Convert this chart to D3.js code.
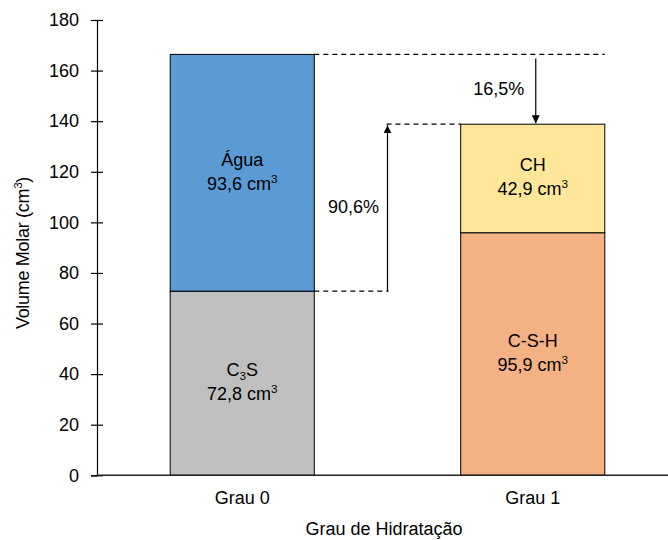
<!DOCTYPE html>
<html><head><meta charset="utf-8">
<script src="https://cdn.jsdelivr.net/npm/d3@7"></script>
<style>
body{margin:0;background:#fff}
text{font-family:"Liberation Sans",Arial,sans-serif;fill:#000}
</style>
</head><body>
<svg id="c" width="668" height="540"></svg>
<script>
// ---- data ----
const categories = ["Grau 0", "Grau 1"];
const bottomNames = ["C_3S", "C-S-H"];
const bottomValues = [72.8, 95.9];
const topNames = ["Água", "CH"];
const topValues = [93.6, 42.9];
const yTicks = [0, 20, 40, 60, 80, 100, 120, 140, 160, 180];
const pctLabels = ["90,6%", "16,5%"];
const xTitle = "Grau de Hidratação";
const yTitle = "Volume Molar (cm";

// ---- styles ----
const bottomColor = d3.scaleOrdinal().domain(categories).range(["#BFBFBF", "#F4B183"]);
const topColor = d3.scaleOrdinal().domain(categories).range(["#5B9BD5", "#FFE699"]);
const FS = 18;

const svg = d3.select("#c");
const x = d3.scaleBand().domain(categories).range([97, 678]).paddingInner(0.504).paddingOuter(0.252);
const y = d3.scaleLinear().domain([0, 180]).range([475.3, 20]);

// defs: arrow marker
const defs = svg.append("defs");
defs.append("marker").attr("id", "arr").attr("viewBox", "0 0 10 10")
  .attr("refX", 10).attr("refY", 5).attr("markerWidth", 8).attr("markerHeight", 8)
  .attr("markerUnits", "userSpaceOnUse").attr("orient", "auto")
  .append("path").attr("d", "M0,0 L10,5 L0,10 Z").attr("fill", "#000");

// bars
const rows = categories.map((c, i) => ({
  cat: c, b: bottomValues[i], t: topValues[i], bn: bottomNames[i], tn: topNames[i]
}));

const g = svg.append("g");
g.selectAll("rect.bot").data(rows).join("rect").attr("class", "bot")
  .attr("x", d => x(d.cat)).attr("width", x.bandwidth())
  .attr("y", d => y(d.b)).attr("height", d => y(0) - y(d.b))
  .attr("fill", d => bottomColor(d.cat)).attr("stroke", "#000").attr("stroke-width", 1);
g.selectAll("rect.top").data(rows).join("rect").attr("class", "top")
  .attr("x", d => x(d.cat)).attr("width", x.bandwidth())
  .attr("y", d => y(d.b + d.t)).attr("height", d => y(d.b) - y(d.b + d.t))
  .attr("fill", d => topColor(d.cat)).attr("stroke", "#000").attr("stroke-width", 1);

const fmt = v => d3.format(".1f")(v).replace(".", ",");
function nameText(sel, name) {
  const parts = name.split(/_(\d)/);
  let pending = 0;
  parts.forEach((p, k) => {
    if (!p) return;
    if (k % 2 === 1) {
      sel.append("tspan").attr("font-size", FS * 0.65).attr("dy", 4).text(p);
      pending = -4;
    } else {
      sel.append("tspan").attr("dy", pending).text(p);
      pending = 0;
    }
  });
}
function valText(sel, v) {
  sel.append("tspan").text(fmt(v) + " cm");
  sel.append("tspan").attr("font-size", FS * 0.65).attr("dy", -7).text("3");
}
function segLabel(cat, lo, hi, name, v) {
  const cx = x(cat) + x.bandwidth() / 2;
  const my = (y(lo) + y(hi)) / 2;
  const t1 = svg.append("text").attr("x", cx).attr("y", my - 7).attr("text-anchor", "middle").attr("font-size", FS);
  nameText(t1, name);
  const t2 = svg.append("text").attr("x", cx).attr("y", my + 17).attr("text-anchor", "middle").attr("font-size", FS);
  valText(t2, v);
}
rows.forEach(d => {
  segLabel(d.cat, 0, d.b, d.bn, d.b);
  segLabel(d.cat, d.b, d.b + d.t, d.tn, d.t);
});

// axes
const yAxis = svg.append("g").attr("transform", "translate(97,0)")
  .call(d3.axisLeft(y).tickValues(yTicks).tickSize(6).tickPadding(12).tickFormat(d3.format("d")));
yAxis.select(".domain").attr("stroke", "#000").attr("stroke-width", 1.2);
yAxis.selectAll(".tick line").attr("x1", 6).attr("x2", -6).attr("stroke", "#000").attr("stroke-width", 1.2);
yAxis.selectAll(".tick text").attr("font-size", FS).attr("font-family", "Liberation Sans, Arial, sans-serif").attr("fill", "#000");

svg.append("line").attr("x1", 97).attr("x2", 668).attr("y1", y(0)).attr("y2", y(0))
  .attr("stroke", "#222").attr("stroke-width", 1.4);

svg.selectAll("text.xl").data(categories).join("text").attr("class", "xl")
  .attr("x", d => x(d) + x.bandwidth() / 2).attr("y", 504).attr("text-anchor", "middle")
  .attr("font-size", FS).text(d => d);

svg.append("text").attr("x", 384).attr("y", 535).attr("text-anchor", "middle").attr("font-size", FS).text(xTitle);

const yt = svg.append("text").attr("transform", "translate(29,253) rotate(-90)")
  .attr("text-anchor", "middle").attr("font-size", FS).attr("letter-spacing", -0.3);
yt.append("tspan").text(yTitle);
yt.append("tspan").attr("font-size", FS * 0.65).attr("dy", -7).text("3");
yt.append("tspan").attr("dy", 7).text(")");

// annotations
const r0 = rows[0], r1 = rows[1];
const tot0 = r0.b + r0.t, tot1 = r1.b + r1.t;
const bar0R = x(r0.cat) + x.bandwidth();
const bar1L = x(r1.cat), bar1R = x(r1.cat) + x.bandwidth();
const upX = (bar0R + bar1L) / 2;
const downX = bar1L + x.bandwidth() / 2 + 3;
const dash = "5,4";
const ann = svg.append("g").attr("stroke", "#000").attr("stroke-width", 1.2).attr("fill", "none");
ann.append("line").attr("x1", bar0R).attr("x2", bar1R).attr("y1", y(tot0)).attr("y2", y(tot0)).attr("stroke-dasharray", dash);
ann.append("line").attr("x1", upX - 1).attr("x2", bar1L).attr("y1", y(tot1)).attr("y2", y(tot1)).attr("stroke-dasharray", dash);
ann.append("line").attr("x1", bar0R).attr("x2", upX + 1).attr("y1", y(r0.b)).attr("y2", y(r0.b)).attr("stroke-dasharray", dash);
ann.append("line").attr("x1", upX).attr("x2", upX).attr("y1", y(r0.b)).attr("y2", y(tot1) + 1).attr("marker-end", "url(#arr)");
ann.append("line").attr("x1", downX).attr("x2", downX).attr("y1", y(tot0) + 4).attr("y2", y(tot1) - 1).attr("marker-end", "url(#arr)");

svg.append("text").attr("x", upX - 34).attr("y", 213).attr("text-anchor", "middle").attr("font-size", FS).text(pctLabels[0]);
svg.append("text").attr("x", downX - 37).attr("y", 95).attr("text-anchor", "middle").attr("font-size", FS).text(pctLabels[1]);
</script>
</body></html>
